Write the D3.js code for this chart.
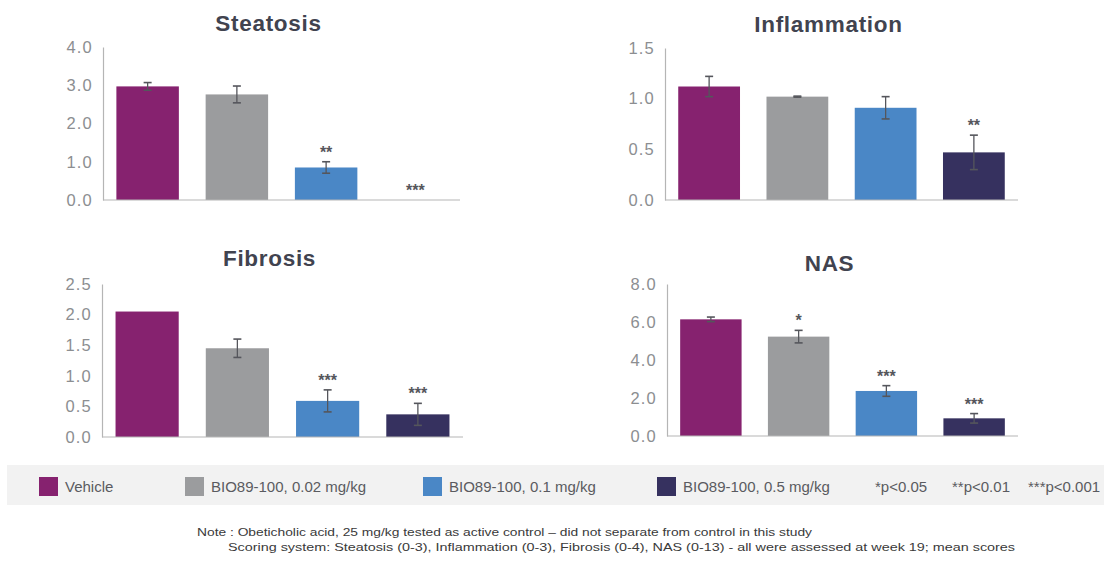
<!DOCTYPE html>
<html>
<head>
<meta charset="utf-8">
<script src="https://cdn.jsdelivr.net/npm/d3@7"></script>
<style>
  html, body { margin: 0; padding: 0; background: #fff; }
  svg { display: block; font-family: "Liberation Sans", Arial, sans-serif; }
</style>
</head>
<body>
<svg id="chart" width="1111" height="564"></svg>
<script>
// ---- Data ----
const groups = ["Vehicle", "BIO89-100, 0.02 mg/kg", "BIO89-100, 0.1 mg/kg", "BIO89-100, 0.5 mg/kg"];
const colors = ["#86226f", "#9b9c9e", "#4a87c6", "#36315f"];

const steatosisValues = [2.97, 2.76, 0.85, 0.0];
const steatosisErrors = [0.1, 0.22, 0.15, 0.0];
const steatosisSig = ["", "", "**", "***"];
const steatosisTicks = [0, 1, 2, 3, 4];

const inflammationValues = [1.12, 1.02, 0.91, 0.47];
const inflammationErrors = [0.1, 0.005, 0.11, 0.17];
const inflammationSig = ["", "", "", "**"];
const inflammationTicks = [0, 0.5, 1.0, 1.5];

const fibrosisValues = [2.05, 1.45, 0.59, 0.37];
const fibrosisErrors = [0.0, 0.15, 0.18, 0.18];
const fibrosisSig = ["", "", "***", "***"];
const fibrosisTicks = [0, 0.5, 1.0, 1.5, 2.0, 2.5];

const nasValues = [6.14, 5.23, 2.37, 0.93];
const nasErrors = [0.12, 0.33, 0.28, 0.25];
const nasSig = ["", "*", "***", "***"];
const nasTicks = [0, 2, 4, 6, 8];

const sigLegend = ["*p<0.05", "**p<0.01", "***p<0.001"];
const noteLines = [
  "Note : Obeticholic acid, 25 mg/kg tested as active control \u2013 did not separate from control in this study",
  "Scoring system: Steatosis (0-3), Inflammation (0-3), Fibrosis (0-4), NAS (0-13) - all were assessed at week 19; mean scores"
];

// ---- Layout ----
const panels = [
  { title: "Steatosis", values: steatosisValues, errors: steatosisErrors, sig: steatosisSig, ticks: steatosisTicks,
    x0: 103, x1: 460, yTop: 47, yBottom: 200, titleY: 31 },
  { title: "Inflammation", values: inflammationValues, errors: inflammationErrors, sig: inflammationSig, ticks: inflammationTicks,
    x0: 665, x1: 1018, yTop: 48, yBottom: 200, titleY: 32 },
  { title: "Fibrosis", values: fibrosisValues, errors: fibrosisErrors, sig: fibrosisSig, ticks: fibrosisTicks,
    x0: 102, x1: 463, yTop: 284, yBottom: 437, titleY: 266 },
  { title: "NAS", values: nasValues, errors: nasErrors, sig: nasSig, ticks: nasTicks,
    x0: 667, x1: 1018, yTop: 284, yBottom: 436, titleY: 271 }
];

const svg = d3.select("#chart");

panels.forEach(p => {
  const g = svg.append("g");
  const x = d3.scaleBand().domain(groups).range([p.x0, p.x1]).paddingInner(0.3).paddingOuter(0.15);
  const y = d3.scaleLinear().domain([0, d3.max(p.ticks)]).range([p.yBottom, p.yTop]);

  // title
  g.append("text")
    .attr("x", (p.x0 + p.x1) / 2 - 13)
    .attr("y", p.titleY)
    .attr("text-anchor", "middle")
    .attr("font-size", 22.5)
    .attr("font-weight", "bold")
    .attr("letter-spacing", 0.7)
    .attr("fill", "#41434f")
    .text(p.title);

  // y axis
  const yAxis = d3.axisLeft(y).tickValues(p.ticks).tickFormat(d3.format(".1f")).tickSize(0).tickPadding(10);
  const ya = g.append("g").attr("transform", `translate(${p.x0},0)`).call(yAxis);
  ya.select(".domain").attr("stroke", "#b5b5b5").attr("stroke-width", 1.2);
  ya.selectAll("text").attr("font-size", 16.5).attr("fill", "#8c8e91").attr("letter-spacing", 1.2)
    .attr("font-family", "'Liberation Sans', Arial, sans-serif");

  // bars
  g.selectAll("rect.bar").data(p.values).enter().append("rect")
    .attr("class", "bar")
    .attr("x", (d, i) => x(groups[i]))
    .attr("width", x.bandwidth())
    .attr("y", d => y(d))
    .attr("height", d => y(0) - y(d))
    .attr("fill", (d, i) => colors[i]);

  // x baseline
  g.append("line")
    .attr("x1", p.x0).attr("x2", p.x1)
    .attr("y1", y(0)).attr("y2", y(0))
    .attr("stroke", "#b5b5b5").attr("stroke-width", 1.2);

  // error bars
  p.values.forEach((v, i) => {
    const e = p.errors[i];
    const cx = x(groups[i]) + x.bandwidth() / 2;
    if (e > 0) {
      g.append("line").attr("x1", cx).attr("x2", cx)
        .attr("y1", y(v - e)).attr("y2", y(v + e))
        .attr("stroke", "#55565c").attr("stroke-width", 1.3);
      [v - e, v + e].forEach(t => {
        g.append("line").attr("x1", cx - 4).attr("x2", cx + 4)
          .attr("y1", y(t)).attr("y2", y(t))
          .attr("stroke", "#55565c").attr("stroke-width", 1.6);
      });
    }
    if (p.sig[i]) {
      g.append("text")
        .attr("x", cx)
        .attr("y", y(v + e) - 4)
        .attr("text-anchor", "middle")
        .attr("font-size", 16)
        .attr("font-weight", "bold")
        .attr("fill", "#55565c")
        .text(p.sig[i]);
    }
  });
});

// ---- Legend ----
const leg = svg.append("g");
leg.append("rect").attr("x", 7).attr("y", 465).attr("width", 1097).attr("height", 40).attr("fill", "#f2f2f2");
const legendX = [39, 185, 423, 657];
groups.forEach((gname, i) => {
  leg.append("rect").attr("x", legendX[i]).attr("y", 477).attr("width", 19).attr("height", 19).attr("fill", colors[i]);
  leg.append("text").attr("x", legendX[i] + 26).attr("y", 492)
    .attr("font-size", 15).attr("fill", "#5a5b60").text(gname);
});
const sigX = [875, 952, 1028];
sigLegend.forEach((s, i) => {
  leg.append("text").attr("x", sigX[i]).attr("y", 492).attr("font-size", 15).attr("fill", "#5a5b60").text(s);
});

// ---- Note ----
const noteX = [197, 228];
const noteW = [615, 787];
const noteY = [536, 551];
noteLines.forEach((t, i) => {
  svg.append("text").attr("x", noteX[i]).attr("y", noteY[i])
    .attr("font-size", 11).attr("fill", "#3a3a3a")
    .attr("font-family", "'Liberation Sans Narrow', 'Liberation Sans', Arial, sans-serif")
    .attr("textLength", noteW[i]).attr("lengthAdjust", "spacingAndGlyphs")
    .text(t);
});
</script>
</body>
</html>
